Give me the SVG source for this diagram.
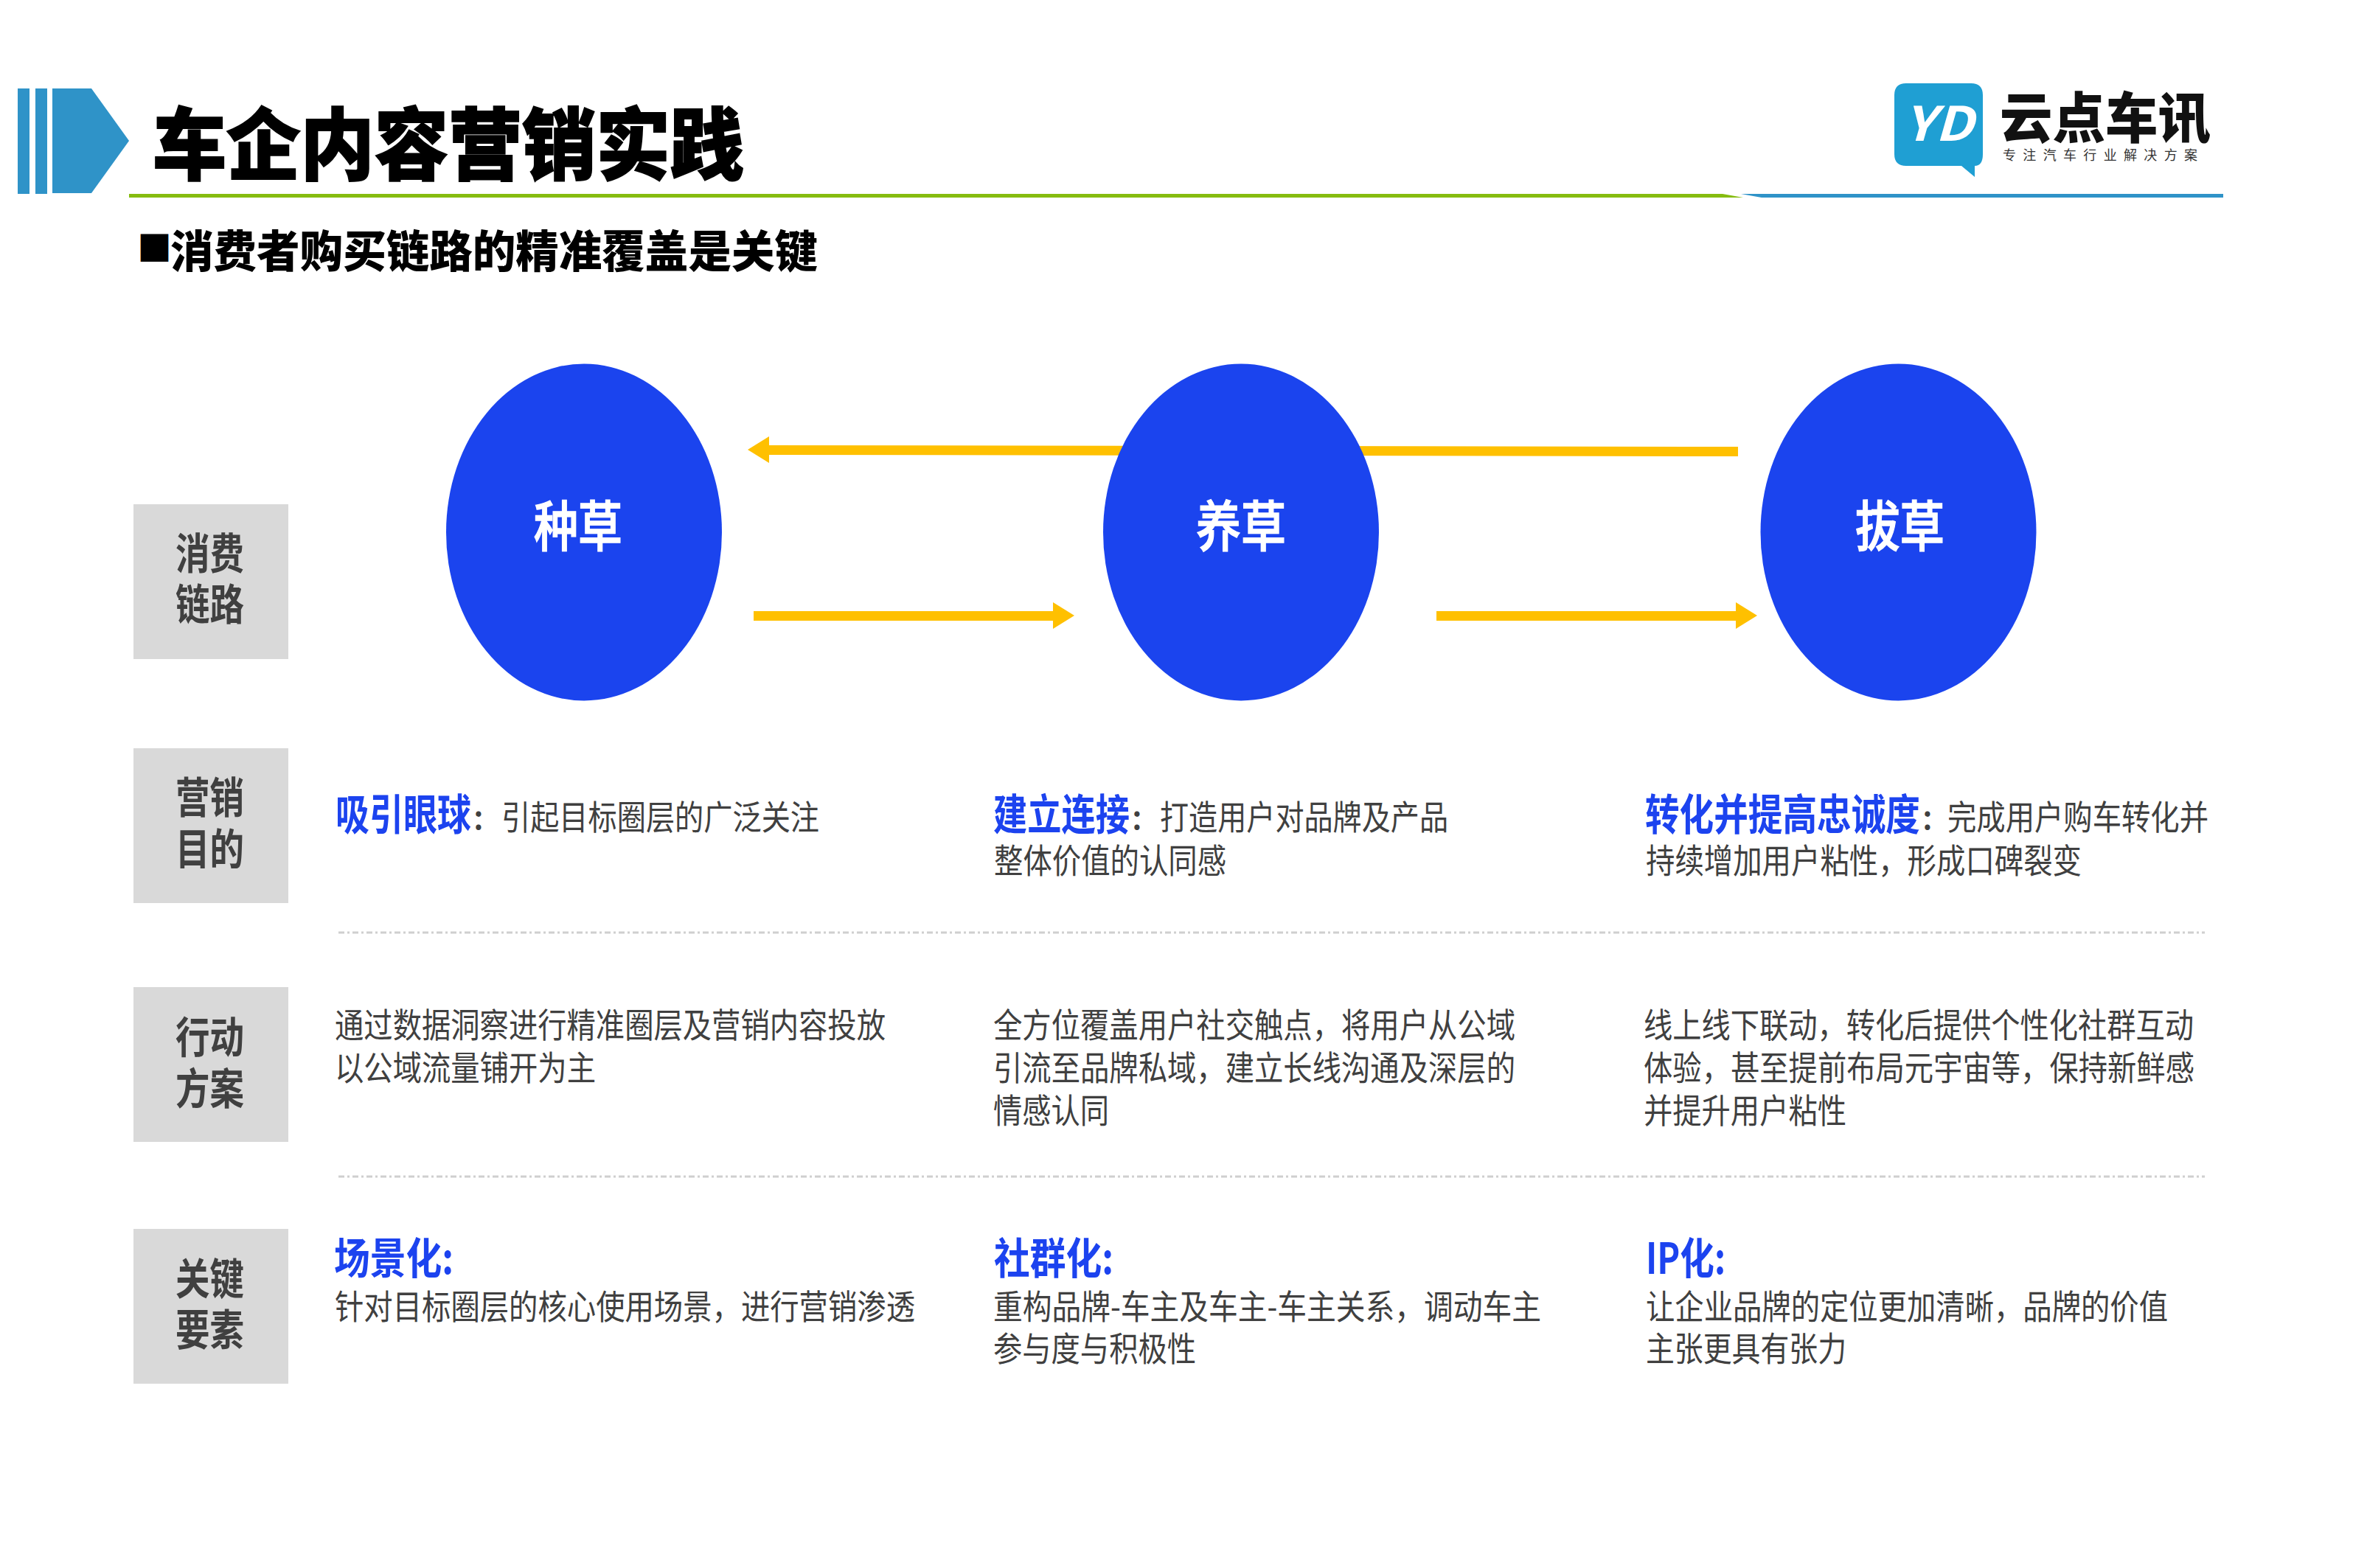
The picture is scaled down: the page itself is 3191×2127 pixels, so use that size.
<svg xmlns="http://www.w3.org/2000/svg" width="3191" height="2127" viewBox="0 0 3191 2127">
<style>
text{font-family:"Noto Sans CJK SC","Liberation Sans",sans-serif;}
.lab{font-size:58px;font-weight:700;fill:#404040;}
.box{fill:#D9D9D9;}
.circ{fill:#1B44EE;}
.clab{font-size:74px;font-weight:500;fill:#fff;stroke:#fff;stroke-width:1.500;}
.head{font-size:58px;font-weight:700;fill:#1C43EF;}
.body{font-size:46px;font-weight:400;fill:#404040;}
.colon{font-size:46px;font-weight:500;fill:#404040;}
.arr{stroke:#FFC000;stroke-width:13;fill:none;}
.head-mark{fill:#FFC000;}
.dot{stroke:#CFCFCF;stroke-width:3;stroke-dasharray:8 4 3 4;fill:none;}
.bar{fill:#2F93C8;}
</style>
<rect width="3191" height="2127" fill="#fff"/>
<g id="header">
<rect class="bar" x="24" y="120" width="16" height="143"/>
<rect class="bar" x="48" y="120" width="16" height="143"/>
<polygon class="bar" points="71,120 124,120 175,191 124,262 71,262"/>
<text x="207" y="235" font-size="106" font-weight="900" fill="#000" stroke="#000" stroke-width="2" textLength="802" lengthAdjust="spacingAndGlyphs">车企内容营销实践</text>
<polygon points="175,263 2336,263 2364,268 175,268" fill="#86BC10"/>
<polygon class="bar" points="2361,263 3015,263 3015,268 2389,268"/>
<text x="186" y="354" font-size="47" font-weight="900" fill="#000">■</text>
<text x="231" y="363" font-size="60" font-weight="900" fill="#000" textLength="878" lengthAdjust="spacingAndGlyphs">消费者购买链路的精准覆盖是关键</text>
</g>
<g id="logo">
<path d="M2585,113H2673Q2689,113 2689,129V209Q2689,225 2678,225V240L2660,225H2585Q2569,225 2569,209V129Q2569,113 2585,113Z" fill="#1F9FD3"/>
<text x="2582" y="191" font-family="Liberation Sans" font-size="64" font-weight="700" font-style="italic" fill="#fff" textLength="94" lengthAdjust="spacingAndGlyphs">YD</text>
<text x="2712" y="187" font-size="74" font-weight="900" fill="#111" textLength="286" lengthAdjust="spacingAndGlyphs">云点车讯</text>
<text x="2716" y="217" font-size="18" fill="#333" textLength="264">专注汽车行业解决方案</text>
</g>
<g id="connectors">
<path class="arr" d="M2357,612.500L1040,610.500"/>
<polygon class="head-mark" points="1014,610 1043,592 1043,628"/>
<path class="arr" d="M1022,835.500H1430"/>
<polygon class="head-mark" points="1457,835 1428,817 1428,853"/>
<path class="arr" d="M1948,835.500H2356"/>
<polygon class="head-mark" points="2383,835 2354,817 2354,853"/>
</g>
<g id="node-zhongcao"><ellipse class="circ" cx="792" cy="722" rx="187" ry="228.500"/><text class="clab" x="724" y="741" textLength="120" lengthAdjust="spacingAndGlyphs">种草</text></g>
<g id="node-yangcao"><ellipse class="circ" cx="1683" cy="722" rx="187" ry="228.500"/><text class="clab" x="1622" y="741" textLength="122" lengthAdjust="spacingAndGlyphs">养草</text></g>
<g id="node-bacao"><ellipse class="circ" cx="2574.500" cy="722" rx="187" ry="228.500"/><text class="clab" x="2516" y="741" textLength="121" lengthAdjust="spacingAndGlyphs">拔草</text></g>
<g id="label-chain"><rect class="box" x="181" y="684" width="210" height="210"/><text class="lab" x="238" y="772" textLength="93" lengthAdjust="spacingAndGlyphs">消费</text><text class="lab" x="238" y="841" textLength="93" lengthAdjust="spacingAndGlyphs">链路</text></g>
<g id="label-goal"><rect class="box" x="181" y="1015" width="210" height="210"/><text class="lab" x="238" y="1103" textLength="93" lengthAdjust="spacingAndGlyphs">营销</text><text class="lab" x="238" y="1173" textLength="93" lengthAdjust="spacingAndGlyphs">目的</text></g>
<g id="label-plan"><rect class="box" x="181" y="1339" width="210" height="210"/><text class="lab" x="238" y="1428" textLength="93" lengthAdjust="spacingAndGlyphs">行动</text><text class="lab" x="238" y="1498" textLength="93" lengthAdjust="spacingAndGlyphs">方案</text></g>
<g id="label-key"><rect class="box" x="181" y="1667" width="210" height="210"/><text class="lab" x="238" y="1756" textLength="93" lengthAdjust="spacingAndGlyphs">关键</text><text class="lab" x="238" y="1825" textLength="93" lengthAdjust="spacingAndGlyphs">要素</text></g>
<g id="dividers">
<path class="dot" d="M459,1265H2990"/>
<path class="dot" d="M459,1596H2990"/>
</g>
<g id="goal-1">
<text class="head" x="455" y="1126" textLength="184" lengthAdjust="spacingAndGlyphs">吸引眼球</text><text class="colon" x="642" y="1125">:</text>
<text class="body" x="680" y="1125" textLength="431" lengthAdjust="spacingAndGlyphs">引起目标圈层的广泛关注</text>
</g>
<g id="goal-2">
<text class="head" x="1347" y="1126" textLength="185" lengthAdjust="spacingAndGlyphs">建立连接</text><text class="colon" x="1535" y="1125">:</text>
<text class="body" x="1573" y="1125" textLength="391" lengthAdjust="spacingAndGlyphs">打造用户对品牌及产品</text>
<text class="body" x="1348" y="1184" textLength="315" lengthAdjust="spacingAndGlyphs">整体价值的认同感</text>
</g>
<g id="goal-3">
<text class="head" x="2231" y="1126" textLength="373" lengthAdjust="spacingAndGlyphs">转化并提高忠诚度</text><text class="colon" x="2607" y="1125">:</text>
<text class="body" x="2641" y="1125" textLength="354" lengthAdjust="spacingAndGlyphs">完成用户购车转化并</text>
<text class="body" x="2232" y="1184" textLength="591" lengthAdjust="spacingAndGlyphs">持续增加用户粘性，形成口碑裂变</text>
</g>
<g id="plan-1">
<text class="body" x="454" y="1407" textLength="747" lengthAdjust="spacingAndGlyphs">通过数据洞察进行精准圈层及营销内容投放</text>
<text class="body" x="454" y="1465" textLength="354" lengthAdjust="spacingAndGlyphs">以公域流量铺开为主</text>
</g>
<g id="plan-2">
<text class="body" x="1347" y="1407" textLength="708" lengthAdjust="spacingAndGlyphs">全方位覆盖用户社交触点，将用户从公域</text>
<text class="body" x="1347" y="1465" textLength="708" lengthAdjust="spacingAndGlyphs">引流至品牌私域，建立长线沟通及深层的</text>
<text class="body" x="1347" y="1523" textLength="157" lengthAdjust="spacingAndGlyphs">情感认同</text>
</g>
<g id="plan-3">
<text class="body" x="2229" y="1407" textLength="746" lengthAdjust="spacingAndGlyphs">线上线下联动，转化后提供个性化社群互动</text>
<text class="body" x="2229" y="1465" textLength="747" lengthAdjust="spacingAndGlyphs">体验，甚至提前布局元宇宙等，保持新鲜感</text>
<text class="body" x="2229" y="1523" textLength="275" lengthAdjust="spacingAndGlyphs">并提升用户粘性</text>
</g>
<g id="key-1">
<text class="head" x="453" y="1728" textLength="162" lengthAdjust="spacingAndGlyphs">场景化:</text>
<text class="body" x="454" y="1789" textLength="787" lengthAdjust="spacingAndGlyphs">针对目标圈层的核心使用场景，进行营销渗透</text>
</g>
<g id="key-2">
<text class="head" x="1348" y="1728" textLength="162" lengthAdjust="spacingAndGlyphs">社群化:</text>
<text class="body" x="1347" y="1789" textLength="743" lengthAdjust="spacingAndGlyphs">重构品牌-车主及车主-车主关系，调动车主</text>
<text class="body" x="1347" y="1846" textLength="275" lengthAdjust="spacingAndGlyphs">参与度与积极性</text>
</g>
<g id="key-3">
<text class="head" x="2232" y="1728" textLength="108" lengthAdjust="spacingAndGlyphs">IP化:</text>
<text class="body" x="2232" y="1789" textLength="708" lengthAdjust="spacingAndGlyphs">让企业品牌的定位更加清晰，品牌的价值</text>
<text class="body" x="2232" y="1846" textLength="272" lengthAdjust="spacingAndGlyphs">主张更具有张力</text>
</g>
</svg>
